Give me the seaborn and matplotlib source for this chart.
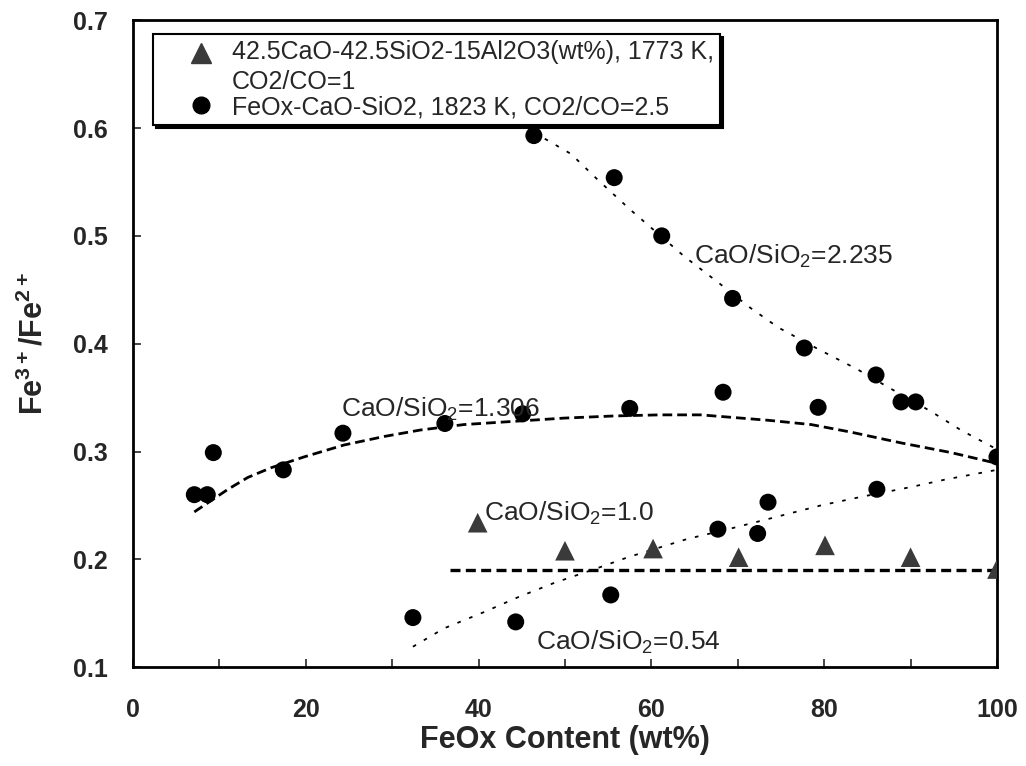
import numpy as np
import pandas as pd
import seaborn as sns
import matplotlib
matplotlib.use("Agg")
import matplotlib.pyplot as plt
from matplotlib.lines import Line2D
from matplotlib.ticker import MultipleLocator
from matplotlib.transforms import offset_copy

# 42.5CaO-42.5SiO2-15Al2O3, CaO/SiO2 = 1.0 (triangles)
tri_x = [39.9, 50.0, 60.2, 70.1, 80.1, 90.0, 100.0]
tri_y = [0.234, 0.208, 0.210, 0.202, 0.213, 0.202, 0.191]

# FeOx-CaO-SiO2 points (circles)
c2235_x = [46.4, 55.7, 61.2, 69.4, 77.7, 86.0, 88.9]
c2235_y = [0.593, 0.554, 0.500, 0.442, 0.396, 0.371, 0.346]
c1306_x = [7.1, 8.6, 9.3, 17.4, 24.3, 36.1, 45.1, 57.5, 68.3, 79.3, 90.6]
c1306_y = [0.260, 0.260, 0.299, 0.283, 0.317, 0.326, 0.335, 0.340, 0.355, 0.341, 0.346]
c054_x = [32.4, 44.3, 55.3, 67.7, 72.3, 73.5, 86.1]
c054_y = [0.146, 0.142, 0.167, 0.228, 0.224, 0.253, 0.265]
pure_x = [100.0]
pure_y = [0.295]

# trend curves as drawn in the figure
t2235_x = [46.4, 50.7, 53.8, 57.6, 63.8, 67.7, 71.5, 74.7, 79.3, 83.9, 86.9, 92.4, 95.8, 100.0]
t2235_y = [0.596, 0.576, 0.552, 0.524, 0.481, 0.457, 0.433, 0.415, 0.395, 0.376, 0.362, 0.337, 0.320, 0.302]
t1306_x = [7.1, 11.0, 13.3, 16.0, 19.8, 24.4, 29.1, 33.3, 38.3, 44.1, 49.9, 55.7, 61.0, 65.7,
           73.5, 78.5, 83.1, 88.9, 94.7, 100.0]
t1306_y = [0.244, 0.265, 0.276, 0.285, 0.295, 0.306, 0.314, 0.320, 0.325, 0.328, 0.331, 0.333, 0.334, 0.334,
           0.329, 0.325, 0.318, 0.308, 0.299, 0.289]
t054_x = [32.4, 36.0, 40.6, 44.6, 48.7, 53.8, 57.3, 64.2, 68.9, 73.8, 79.6, 84.3, 90.0, 94.0, 100.0]
t054_y = [0.119, 0.136, 0.151, 0.165, 0.178, 0.192, 0.202, 0.219, 0.228, 0.238, 0.250, 0.258, 0.267, 0.274, 0.283]
t10_x = [36.7, 100.0]
t10_y = [0.190, 0.190]

notes = ["CaO/SiO$_2$=2.235", "CaO/SiO$_2$=1.306", "CaO/SiO$_2$=1.0", "CaO/SiO$_2$=0.54"]
notes_x = [64.9, 24.1, 40.6, 46.6]
notes_y = [0.481, 0.339, 0.243, 0.123]

tri_label = "42.5CaO-42.5SiO2-15Al2O3(wt%), 1773 K,\nCO2/CO=1"
circ_label = "FeOx-CaO-SiO2, 1823 K, CO2/CO=2.5"

sns.set_style("ticks")
plt.rcParams["font.family"] = ["Liberation Sans", "DejaVu Sans"]
plt.rcParams["mathtext.fontset"] = "custom"
plt.rcParams["mathtext.rm"] = "Liberation Sans"
plt.rcParams["mathtext.bf"] = "Liberation Sans:bold"

fig = plt.figure(figsize=(10.26, 7.66), dpi=100)
ax = fig.add_axes([0.1296, 0.129, 0.8421, 0.8446])

pts = pd.concat([
    pd.DataFrame({"x": tri_x, "y": tri_y, "series": tri_label}),
    pd.DataFrame({"x": c2235_x + c1306_x + c054_x + pure_x,
                  "y": c2235_y + c1306_y + c054_y + pure_y, "series": circ_label}),
])
sns.scatterplot(pts, x="x", y="y", hue="series", style="series", size="series",
                palette={tri_label: "#3a3a3a", circ_label: "black"},
                markers={tri_label: "^", circ_label: "o"},
                sizes={tri_label: 200, circ_label: 150},
                linewidth=0, legend=False, ax=ax, zorder=3)

dotted = (0, (2, 5))
sns.lineplot(x=t2235_x, y=t2235_y, sort=False, color="black", lw=1.3, ls=dotted, ax=ax)
sns.lineplot(x=t1306_x, y=t1306_y, sort=False, color="black", lw=2.0, ls=(0, (3.5, 1.8)), ax=ax)
sns.lineplot(x=t054_x, y=t054_y, sort=False, color="black", lw=1.3, ls=dotted, ax=ax)
sns.lineplot(x=t10_x, y=t10_y, sort=False, color="black", lw=2.4, ls=(0, (3, 1.6)), ax=ax)

for txt, tx, ty in zip(notes, notes_x, notes_y):
    ax.text(tx, ty, txt, fontsize=19, va="center", ha="left")

ax.set_xlim(0, 100)
ax.set_ylim(0.1, 0.7)
ax.xaxis.set_major_locator(MultipleLocator(20))
ax.xaxis.set_minor_locator(MultipleLocator(10))
ax.yaxis.set_major_locator(MultipleLocator(0.1))
ax.tick_params(axis="both", which="both", direction="in", length=6, width=1.2)
ax.tick_params(axis="x", which="major", pad=22, labelsize=18)
ax.tick_params(axis="y", which="major", pad=18, labelsize=18)
for t in ax.get_xticklabels() + ax.get_yticklabels():
    t.set_fontweight("bold")
for sp in ax.spines.values():
    sp.set_linewidth(2)
    sp.set_color("black")

ax.set_xlabel("FeOx Content (wt%)", fontsize=22, fontweight="bold", labelpad=2)
ax.set_ylabel(r"Fe$^{\mathbf{3+}}$/Fe$^{\mathbf{2+}}$", fontsize=22, fontweight="bold", labelpad=17)

handles = [
    Line2D([0], [0], marker="^", color="#3a3a3a", lw=0, markersize=14),
    Line2D([0], [0], marker="o", color="black", lw=0, markersize=12),
]
leg = ax.legend(handles, [tri_label, circ_label], loc="upper left",
                bbox_to_anchor=(0.023, 0.979), borderaxespad=0, fontsize=18,
                frameon=True, fancybox=False, edgecolor="black", handletextpad=0.9,
                labelspacing=0.05, borderpad=0.25, handlelength=2.0,
                shadow={"color": "black", "alpha": 1})
leg.get_frame().set_linewidth(1.5)
for t in leg.get_texts():
    t.set_linespacing(1.3)
# markers sit further right; triangle lines up with the first text line
for h, dy in zip(leg.legend_handles, [15, 0]):
    h.set_transform(offset_copy(h.get_transform(), fig=fig, x=17, y=dy, units="dots"))

fig.savefig("out.png", dpi=100)
